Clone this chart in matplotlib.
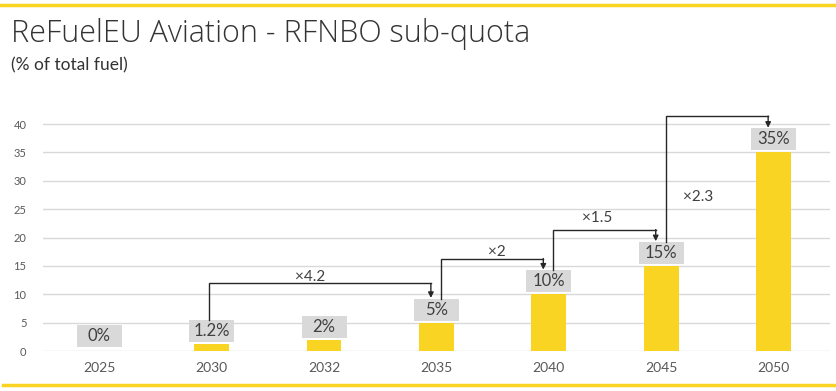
import matplotlib
matplotlib.use('Agg')
import matplotlib.pyplot as plt
from matplotlib.patches import Rectangle
from matplotlib.lines import Line2D
import numpy as np

# Data
years = ['2025', '2030', '2032', '2035', '2040', '2045', '2050']
quota = [0, 1.2, 2, 5, 10, 15, 35]
labels = ['0%', '1.2%', '2%', '5%', '10%', '15%', '35%']

# Growth brackets: (from index, to index, multiplier text, bracket level)
steps_from = [1, 3, 4, 5]
steps_to = [3, 4, 5, 6]
steps_text = ['\u00d74.2', '\u00d72', '\u00d71.5', '\u00d72.3']
steps_level = [11.9, 16.3, 21.4, 41.4]
steps_text_y = [13.1, 17.5, 23.5, 27.2]
steps_text_dx = [-0.125, 0.04, -0.07, -0.17]

YELLOW = '#F9D423'
BOX = '#D9D9D9'
TXT = '#404040'
GRID = '#D9D9D9'

plt.rcParams['font.family'] = ['Lato', 'DejaVu Sans']

fig = plt.figure(figsize=(8.37, 3.91), dpi=100)
ax = fig.add_axes([0.0514, 0.1023, 0.9402, 0.653])

x = np.arange(len(years))
ax.bar(x, quota, width=0.31, color=YELLOW, zorder=3)

box_w = 0.40
box_h = 3.9
box_tops = []
for i, (v, lab) in enumerate(zip(quota, labels)):
    bottom = max(v, 0.35) + 0.35
    ax.add_patch(Rectangle((i - box_w / 2, bottom), box_w, box_h,
                           facecolor=BOX, edgecolor='none', zorder=4))
    ax.text(i, bottom + box_h / 2, lab, ha='center', va='center',
            fontsize=12, color=TXT, zorder=5)
    box_tops.append(bottom + box_h)

# Bracket arrows
for f, t, txt, lvl, ty, tdx in zip(steps_from, steps_to, steps_text,
                                   steps_level, steps_text_y, steps_text_dx):
    xs = f + (0.04 if f > 1 else -0.02)
    xe = t - 0.05
    ax.plot([xs, xs, xe], [box_tops[f], lvl, lvl], color='#262626',
            lw=1.0, zorder=6, solid_joinstyle='miter')
    ax.annotate('', xy=(xe, box_tops[t] + 0.1), xytext=(xe, lvl),
                arrowprops=dict(arrowstyle='-|>', color='#262626', lw=1.0,
                                mutation_scale=8, shrinkA=0, shrinkB=0),
                zorder=6)
    ax.text((f + t) / 2 + tdx, ty, txt, ha='center', va='center',
            fontsize=11, color=TXT, zorder=6)

ax.set_xlim(-0.5, len(years) - 0.5)
ax.set_ylim(0, 45)
ax.set_yticks(np.arange(0, 41, 5))
ax.set_xticks(x)
ax.set_xticklabels(years)
ax.tick_params(axis='y', length=0, labelsize=8, colors='#595959', pad=12)
ax.tick_params(axis='x', length=0, labelsize=10, colors='#595959', pad=8)
ax.grid(axis='y', color=GRID, lw=1.0, zorder=0)
ax.set_axisbelow(True)
for s in ax.spines.values():
    s.set_visible(False)

# Title and subtitle
fig.text(11 / 837, 1 - 42 / 391, 'ReFuelEU Aviation - RFNBO sub-quota',
         fontsize=22, fontweight='light', family=['Open Sans', 'DejaVu Sans'],
         color='#333333', ha='left', va='baseline')
fig.text(11 / 837, 1 - 70 / 391, '(% of total fuel)',
         fontsize=12.5, color='#333333', ha='left', va='baseline')

# Yellow rules top and bottom
fig.add_artist(Line2D([0, 1], [1 - 5 / 391] * 2, color=YELLOW, lw=2.5,
                      transform=fig.transFigure))
fig.add_artist(Line2D([3 / 837, 834 / 837], [1 - 385 / 391] * 2, color=YELLOW,
                      lw=2.5, transform=fig.transFigure))

plt.savefig('out.png', dpi=100)
plt.close()
